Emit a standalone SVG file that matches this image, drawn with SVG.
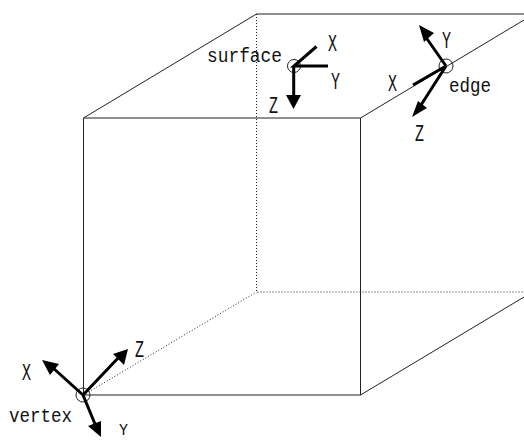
<svg xmlns="http://www.w3.org/2000/svg" width="524" height="440" viewBox="0 0 524 440">
<style>
text{font-family:"Liberation Mono","DejaVu Sans Mono",monospace;font-size:20px;fill:#111}
text.s{font-size:23px}
text.b{font-size:17px}
.l{stroke:#222;stroke-width:1;fill:none}
.d{stroke:#222;stroke-width:1;stroke-dasharray:1 2;fill:none}
.a{stroke:#000;stroke-width:3;fill:none}
.h{fill:#000}
.c{fill:none;stroke:#222;stroke-width:1}
</style>
<rect width="524" height="440" fill="#fff"/>
<g id="connectors">
<path class="l" d="M83.500 118H360.500V395H83.500ZM83.500 118L256.500 14H524M360.500 118L524 20M360.500 395L524 297"/>
<path class="d" d="M256.500 14V292H524M83.500 395L256.500 292"/>
</g>
<g id="surface">
<circle class="c" cx="294" cy="66" r="6.500"/>
<path class="a" d="M316.500 46.500L294 66H328M293.700 66V100"/>
<path class="h" d="M286 95H301L293.500 109Z"/>
<text x="207" y="62" textLength="75" lengthAdjust="spacingAndGlyphs">surface</text>
<text class="s" x="328" y="51" textLength="9" lengthAdjust="spacingAndGlyphs">X</text>
<text class="s" x="331" y="89" textLength="9" lengthAdjust="spacingAndGlyphs">Y</text>
<text class="s" x="269" y="113" textLength="9" lengthAdjust="spacingAndGlyphs">Z</text>
</g>
<g id="edge">
<circle class="c" cx="446" cy="66" r="7"/>
<path class="a" d="M446 66L425 36M446 66L413 85M446 66L421 105"/>
<path class="h" d="M419 25L434 33L424 42Z"/>
<path class="h" d="M412 117L418 101L427 108Z"/>
<text class="s" x="442" y="48" textLength="9" lengthAdjust="spacingAndGlyphs">Y</text>
<text class="s" x="388" y="91" textLength="9" lengthAdjust="spacingAndGlyphs">X</text>
<text x="449" y="92" textLength="42" lengthAdjust="spacingAndGlyphs">edge</text>
<text class="s" x="415" y="141" textLength="9" lengthAdjust="spacingAndGlyphs">Z</text>
</g>
<g id="vertex">
<circle class="c" cx="83" cy="395" r="7"/>
<path class="a" d="M83 395L52 367M83 395L120 356M83 395L95 424"/>
<path class="h" d="M42 360L59 364L50 375Z"/>
<path class="h" d="M128 349L124 365L113 354Z"/>
<path class="h" d="M101 437L88 426L101 421Z"/>
<text class="s" x="135" y="357" textLength="9" lengthAdjust="spacingAndGlyphs">Z</text>
<text class="s" x="22" y="380" textLength="9" lengthAdjust="spacingAndGlyphs">X</text>
<text x="9" y="422" textLength="63" lengthAdjust="spacingAndGlyphs">vertex</text>
<text class="b" x="119" y="435" textLength="9" lengthAdjust="spacingAndGlyphs">Y</text>
</g>
</svg>
